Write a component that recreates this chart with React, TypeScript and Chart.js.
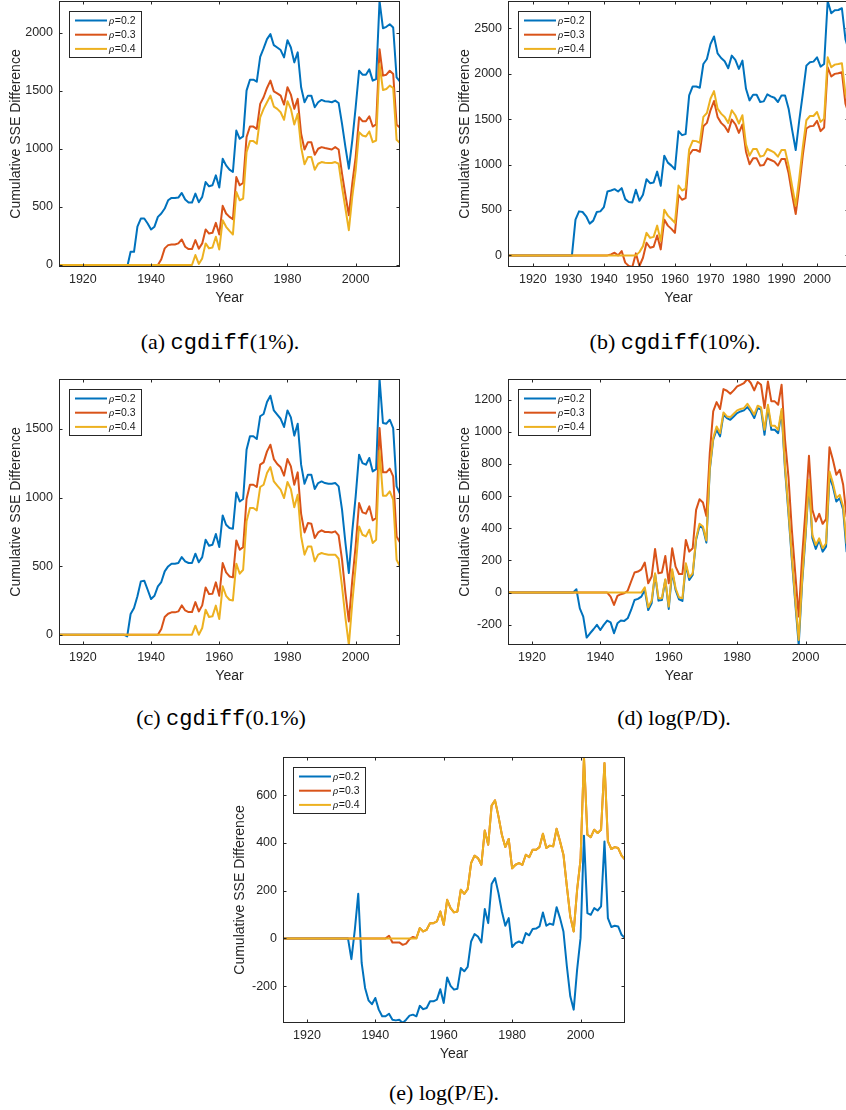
import React, { useEffect, useRef } from "react";
import { Chart, registerables } from "chart.js";

Chart.register(...registerables);

// ---------- categories ----------
const YEARS = [
  1913, 1914, 1915, 1916, 1917, 1918, 1919,
  1920, 1921, 1922, 1923, 1924, 1925, 1926, 1927, 1928, 1929,
  1930, 1931, 1932, 1933, 1934, 1935, 1936, 1937, 1938, 1939,
  1940, 1941, 1942, 1943, 1944, 1945, 1946, 1947, 1948, 1949,
  1950, 1951, 1952, 1953, 1954, 1955, 1956, 1957, 1958, 1959,
  1960, 1961, 1962, 1963, 1964, 1965, 1966, 1967, 1968, 1969,
  1970, 1971, 1972, 1973, 1974, 1975, 1976, 1977, 1978, 1979,
  1980, 1981, 1982, 1983, 1984, 1985, 1986, 1987, 1988, 1989,
  1990, 1991, 1992, 1993, 1994, 1995, 1996, 1997, 1998, 1999,
  2000, 2001, 2002, 2003, 2004, 2005, 2006, 2007, 2008, 2009,
  2010, 2011, 2012, 2013,
];
// panel (b) ends in 2009
const YEARS_B = [
  1913, 1914, 1915, 1916, 1917, 1918, 1919,
  1920, 1921, 1922, 1923, 1924, 1925, 1926, 1927, 1928, 1929,
  1930, 1931, 1932, 1933, 1934, 1935, 1936, 1937, 1938, 1939,
  1940, 1941, 1942, 1943, 1944, 1945, 1946, 1947, 1948, 1949,
  1950, 1951, 1952, 1953, 1954, 1955, 1956, 1957, 1958, 1959,
  1960, 1961, 1962, 1963, 1964, 1965, 1966, 1967, 1968, 1969,
  1970, 1971, 1972, 1973, 1974, 1975, 1976, 1977, 1978, 1979,
  1980, 1981, 1982, 1983, 1984, 1985, 1986, 1987, 1988, 1989,
  1990, 1991, 1992, 1993, 1994, 1995, 1996, 1997, 1998, 1999,
  2000, 2001, 2002, 2003, 2004, 2005, 2006, 2007, 2008, 2009,
];

const LABELS = ["\u03c1=0.2", "\u03c1=0.3", "\u03c1=0.4"];

// ---------- tick labels ----------
const X_TICKS_20 = [1920, 1940, 1960, 1980, 2000];
const X_TICKS_10 = [1920, 1930, 1940, 1950, 1960, 1970, 1980, 1990, 2000];
const Y_TICKS_A = [0, 500, 1000, 1500, 2000];
const Y_TICKS_B = [0, 500, 1000, 1500, 2000, 2500];
const Y_TICKS_C = [0, 500, 1000, 1500];
const Y_TICKS_D = [-200, 0, 200, 400, 600, 800, 1000, 1200];
const Y_TICKS_E = [-200, 0, 200, 400, 600];

// ---------- (a) cgdiff(1%) ----------
const A_RHO02 = [
  0, 0, 0, 0, 0, 0, 0, 0, 0, 0, 0, 0, 0, 0, 0, 0, 0, 0, 0, 0,
  -17, 114, 114, 330, 400, 400, 357, 306, 330, 414,
  443, 486, 557, 577, 577, 580, 620, 563, 537, 537,
  614, 540, 586, 714, 677, 686, 771, 666, 914, 857,
  820, 800, 1157, 1086, 1106, 1500, 1594, 1594, 1577, 1791,
  1863, 1943, 1986, 1891, 1871, 1849, 1786, 1934, 1871, 1743,
  1829, 1529, 1400, 1457, 1457, 1357, 1400, 1420, 1409, 1406,
  1400, 1414, 1394, 1214, 1014, 829, 1071, 1357, 1671, 1637,
  1637, 1683, 1586, 1600, 2271, 2037, 2049, 2071, 2043, 1614,
  1577,
];
const A_RHO03 = [
  0, 0, 0, 0, 0, 0, 0, 0, 0, 0, 0, 0, 0, 0, 0, 0, 0, 0, 0, 0,
  0, 0, 0, 0, 0, 0, 0, 0, 0, 0,
  49, 143, 171, 177, 177, 186, 220, 157, 137, 137,
  214, 140, 186, 306, 271, 277, 363, 263, 509, 443,
  414, 394, 757, 686, 706, 1100, 1191, 1191, 1171, 1386,
  1443, 1523, 1586, 1494, 1477, 1457, 1380, 1529, 1466, 1343,
  1429, 1129, 994, 1057, 1057, 949, 1000, 1014, 1006, 1000,
  994, 1014, 994, 786, 600, 429, 700, 929, 1271, 1237,
  1237, 1280, 1191, 1209, 1857, 1629, 1637, 1671, 1643, 1209,
  1180,
];
const A_RHO04 = [
  0, 0, 0, 0, 0, 0, 0, 0, 0, 0, 0, 0, 0, 0, 0, 0, 0, 0, 0, 0,
  0, 0, 0, 0, 0, 0, 0, 0, 0, 0, 0, 0, 0, 0, 0, 0, 0, 0, 0, 0,
  86, 9, 57, 186, 143, 151, 243, 134, 386, 329,
  294, 263, 629, 557, 571, 971, 1066, 1066, 1043, 1271,
  1343, 1400, 1457, 1363, 1343, 1314, 1249, 1409, 1343, 1209,
  1300, 1014, 866, 929, 929, 820, 871, 886, 880, 877,
  877, 886, 871, 671, 486, 300, 586, 814, 1143, 1114,
  1106, 1149, 1057, 1071, 1729, 1506, 1514, 1543, 1523, 1077,
  1049,
];

// ---------- (b) cgdiff(10%) ----------
const B_RHO02 = [
  0, 0, 0, 0, 0, 0, 0, 0, 0, 0, 0, 0, 0, 0, 0, 0, 0, 0, 0,
  394, 485, 478, 431, 350, 383, 478, 485, 533, 704,
  715, 730, 704, 741, 620, 588, 584, 723, 602, 668,
  839, 796, 803, 923, 766, 1099, 1022, 989, 949, 1369,
  1325, 1336, 1763, 1861, 1861, 1847, 2109, 2164, 2328, 2412,
  2226, 2175, 2139, 2062, 2201, 2153, 2055, 2146, 1836, 1708,
  1770, 1770, 1690, 1697, 1774, 1752, 1737, 1690, 1763, 1763,
  1617, 1380, 1161, 1489, 1781, 2091, 2128, 2135, 2182, 2080,
  2109, 2803, 2668, 2701, 2704, 2723, 2383, 2250,
];
const B_RHO03 = [
  0, 0, 0, 0, 0, 0, 0, 0, 0, 0, 0, 0, 0, 0, 0, 0, 0, 0, 0, 0,
  0, 0, 0, 0, 0, 0, 0, 0, 0,
  11, 29, 0, 47, -80, -117, -128, 22, -117, -26,
  139, 84, 95, 219, 66, 394, 328, 292, 248, 668,
  613, 631, 1106, 1161, 1161, 1142, 1423, 1460, 1599, 1701,
  1526, 1460, 1423, 1361, 1496, 1445, 1350, 1442, 1142, 1004,
  1069, 1069, 989, 996, 1069, 1051, 1033, 989, 1062, 1062,
  905, 668, 456, 759, 1106, 1398, 1423, 1427, 1482, 1369,
  1409, 2073, 1971, 2000, 2007, 2018, 1672, 1550,
];
const B_RHO04 = [
  0, 0, 0, 0, 0, 0, 0, 0, 0, 0, 0, 0, 0, 0, 0, 0, 0, 0, 0, 0,
  0, 0, 0, 0, 0, 0, 0, 0, 0, 0, 0, 0, 0, 0, 0, 0, 0,
  36, 102, 248, 193, 204, 328, 157, 504, 438, 401,
  358, 770, 715, 734, 1168, 1263, 1259, 1241, 1526, 1569,
  1726, 1810, 1617, 1562, 1526, 1460, 1599, 1544, 1453, 1544,
  1223, 1099, 1172, 1172, 1088, 1099, 1172, 1153, 1131, 1088,
  1161, 1161, 989, 759, 547, 850, 1197, 1489, 1536, 1536,
  1580, 1471, 1507, 2182, 2073, 2102, 2109, 2117, 1781, 1650,
];

// ---------- (c) cgdiff(0.1%) ----------
const C_RHO02 = [
  0, 0, 0, 0, 0, 0, 0, 0, 0, 0, 0, 0, 0, 0, 0, 0, 0, 0, 0, 0,
  -12, 151, 195, 280, 389, 394, 328, 260, 284, 353,
  384, 462, 498, 518, 518, 523, 566, 535, 523, 523,
  591, 528, 566, 693, 649, 656, 734, 639, 870, 802,
  778, 773, 1038, 972, 990, 1349, 1447, 1447, 1427, 1593,
  1610, 1697, 1743, 1636, 1605, 1575, 1515, 1636, 1585, 1452,
  1539, 1240, 1101, 1167, 1167, 1062, 1106, 1118, 1106, 1101,
  1101, 1106, 1082, 912, 669, 450, 754, 1009, 1313, 1252,
  1240, 1289, 1191, 1208, 1865, 1544, 1539, 1568, 1507, 1082,
  1028,
];
const C_RHO03 = [
  0, 0, 0, 0, 0, 0, 0, 0, 0, 0, 0, 0, 0, 0, 0, 0, 0, 0, 0, 0,
  0, 0, 0, 0, 0, 0, 0, 0, 0, 0,
  41, 129, 153, 163, 163, 170, 214, 177, 165, 165,
  238, 170, 214, 345, 297, 299, 382, 284, 523, 455,
  425, 418, 688, 620, 639, 990, 1094, 1094, 1077, 1240,
  1257, 1337, 1386, 1281, 1245, 1221, 1160, 1281, 1228, 1094,
  1184, 880, 746, 814, 810, 705, 746, 761, 749, 749,
  746, 754, 724, 547, 304, 97, 396, 649, 960, 892,
  883, 936, 834, 851, 1507, 1184, 1184, 1211, 1155, 717,
  673,
];
const C_RHO04 = [
  0, 0, 0, 0, 0, 0, 0, 0, 0, 0, 0, 0, 0, 0, 0, 0, 0, 0, 0, 0,
  0, 0, 0, 0, 0, 0, 0, 0, 0, 0, 0, 0, 0, 0, 0, 0, 0, 0, 0, 0,
  66, 0, 49, 182, 129, 134, 212, 114, 353, 284,
  255, 250, 518, 445, 474, 827, 924, 924, 907, 1077,
  1094, 1179, 1223, 1118, 1087, 1058, 997, 1114, 1062, 929,
  1021, 717, 584, 644, 644, 535, 584, 596, 588, 584,
  584, 584, 554, 353, 122, -75, 231, 498, 790, 729,
  717, 766, 669, 693, 1342, 1014, 1014, 1045, 985, 547,
  498,
];

// ---------- (d) log(P/D) ----------
const D_RHO02 = [
  0, 0, 0, 0, 0, 0, 0, 0, 0, 0, 0, 0, 0, 0, 0, 0, 0, 0, 0, 0,
  21, -98, -149, -280, -253, -228, -201, -233, -201, -174,
  -185, -253, -191, -174, -176, -160, -108, -46, -39, -25,
  17, -108, -66, 116, -50, -46, 79, -102, 131, 17,
  -42, -52, 172, 79, 110, 328, 415, 401, 311, 764,
  951, 1013, 972, 1107, 1086, 1075, 1096, 1117, 1127, 1134,
  1154, 1127, 1086, 1148, 1138, 982, 1154, 1013, 1013, 992,
  1127, 764, 494, 203, -66, -326, 58, 349, 691, 338,
  272, 328, 255, 286, 722, 660, 567, 588, 515, 255,
  230,
];
const D_RHO03 = [
  0, 0, 0, 0, 0, 0, 0, 0, 0, 0, 0, 0, 0, 0, 0, 0, 0, 0, 0, 0,
  0, 0, 0, 0, 0, 0, 0, 0, 0, 0,
  -25, -77, -21, -10, -4, 12, 69, 125, 131, 145,
  187, 58, 100, 272, 120, 125, 228, 58, 276, 162,
  116, 116, 328, 255, 276, 515, 581, 561, 477, 868,
  1127, 1185, 1142, 1266, 1256, 1237, 1258, 1283, 1293, 1304,
  1329, 1304, 1258, 1310, 1293, 1148, 1314, 1190, 1190, 1169,
  1293, 951, 722, 390, 120, -149, 224, 515, 851, 515,
  442, 490, 428, 457, 905, 826, 733, 764, 671, 473,
  430,
];
const D_RHO04 = [
  0, 0, 0, 0, 0, 0, 0, 0, 0, 0, 0, 0, 0, 0, 0, 0, 0, 0, 0, 0,
  0, 0, 0, 0, 0, 0, 0, 0, 0, 0, 0, 0, 0, 0, 0, 0, 0, 0, 0, 0,
  33, -91, -50, 120, -35, -35, 83, -87, 145, 27,
  -29, -35, 183, 95, 120, 338, 428, 411, 324, 774,
  961, 1034, 992, 1121, 1096, 1092, 1113, 1134, 1142, 1148,
  1175, 1142, 1107, 1163, 1152, 1013, 1169, 1038, 1038, 1013,
  1142, 785, 515, 224, -46, -295, 79, 370, 702, 359,
  297, 338, 276, 307, 754, 681, 588, 608, 536, 307,
  290,
];

// ---------- (e) log(P/E) ----------
const E_RHO02 = [
  0, 0, 0, 0, 0, 0, 0, 0, 0, 0, 0, 0, 0, 0, 0, 0, 0, 0, 0, 0,
  -87, 36, 187, -103, -208, -260, -276, -250, -299, -327,
  -327, -316, -341, -344, -341, -355, -341, -324, -320, -327,
  -283, -297, -292, -264, -264, -257, -213, -271, -164, -199,
  -215, -211, -124, -138, -120, -13, 18, 8, -17, 123,
  64, 228, 253, 190, 113, 53, 85, -36, -20, -13,
  -20, 22, 13, 39, 41, 50, 109, 53, 62, 57,
  131, 85, 29, -117, -243, -299, -131, 1, 431, 106,
  99, 127, 117, 134, 407, 85, 48, 53, 50, 15,
  1,
];
const E_RHO04 = [
  0, 0, 0, 0, 0, 0, 0, 0, 0, 0, 0, 0, 0, 0, 0, 0, 0, 0, 0, 0,
  0, 0, 0, 0, 0, 0, 0, 0, 0, 0, 0, 0, 0, 0, 0, 0, 0, 0, 0, 0,
  43, 29, 36, 64, 64, 71, 113, 57, 162, 127,
  109, 113, 204, 187, 207, 316, 347, 337, 309, 453,
  393, 557, 579, 512, 435, 383, 417, 294, 309, 316,
  309, 351, 341, 372, 372, 383, 439, 379, 389, 386,
  460, 407, 351, 218, 92, 29, 204, 330, 761, 435,
  425, 456, 442, 456, 736, 407, 375, 383, 379, 347,
  330,
];
// rho=0.3 differs from rho=0.4 only up to 1952
const E_RHO03_TO_1952 = [
  0, 0, 0, 0, 0, 0, 0, 0, 0, 0, 0, 0, 0, 0, 0, 0, 0, 0, 0, 0,
  0, 0, 0, 0, 0, 0, 0, 0, 0, 0, 0,
  11, -17, -17, -17, -27, -22, -3, 6, 1,
];
const E_RHO03 = [...E_RHO03_TO_1952, ...E_RHO04.slice(E_RHO03_TO_1952.length)];

// ---------- styling ----------
const COLORS = ["rgb(0,114,189)", "rgb(217,83,25)", "rgb(237,177,32)"];
const AXIS_COLOR = "#262626";
const SANS = '"Liberation Sans", Arial, Helvetica, sans-serif';
const Y_AXIS_W = 59;
const PAD_TOP = 10;
const PAD_RIGHT = 20;
const X_AXIS_H = 45;

type PanelCfg = {
  left: number;
  top: number;
  w: number;
  h: number;
  years: number[];
  series: number[][];
  xTicks: number[];
  yTicks: number[];
};

const PANELS: PanelCfg[] = [
  { left: 59, top: 1, w: 341, h: 266, years: YEARS, series: [A_RHO02, A_RHO03, A_RHO04], xTicks: X_TICKS_20, yTicks: Y_TICKS_A },
  { left: 508, top: 1, w: 341, h: 266, years: YEARS_B, series: [B_RHO02, B_RHO03, B_RHO04], xTicks: X_TICKS_10, yTicks: Y_TICKS_B },
  { left: 59, top: 379, w: 341, h: 266, years: YEARS, series: [C_RHO02, C_RHO03, C_RHO04], xTicks: X_TICKS_20, yTicks: Y_TICKS_C },
  { left: 508, top: 379, w: 342, h: 266, years: YEARS, series: [D_RHO02, D_RHO03, D_RHO04], xTicks: X_TICKS_20, yTicks: Y_TICKS_D },
  { left: 283, top: 757, w: 342, h: 266, years: YEARS, series: [E_RHO02, E_RHO03, E_RHO04], xTicks: X_TICKS_20, yTicks: Y_TICKS_E },
];

const matlabAxes = {
  id: "matlabAxes",
  afterDraw(chart: any) {
    const { ctx, chartArea: a } = chart;
    const xs = chart.scales.x;
    const ys = chart.scales.y;
    const L = 3.5;
    ctx.save();
    ctx.strokeStyle = AXIS_COLOR;
    ctx.lineWidth = 1;
    ctx.beginPath();
    for (const t of xs.ticks) {
      const p = Math.round(xs.getPixelForValue(t.value)) + 0.5;
      ctx.moveTo(p, a.bottom);
      ctx.lineTo(p, a.bottom - L);
      ctx.moveTo(p, a.top);
      ctx.lineTo(p, a.top + L);
    }
    for (const t of ys.ticks) {
      const p = Math.round(ys.getPixelForValue(t.value)) + 0.5;
      ctx.moveTo(a.left, p);
      ctx.lineTo(a.left + L, p);
      ctx.moveTo(a.right, p);
      ctx.lineTo(a.right - L, p);
    }
    ctx.stroke();
    ctx.strokeRect(a.left + 0.5, a.top + 0.5, a.right - a.left - 1, a.bottom - a.top - 1);

    // legend box (inside, top-left)
    const bx = Math.round(a.left) + 10;
    const by = Math.round(a.top) + 10;
    const bw = 72;
    const bh = 46;
    ctx.fillStyle = "#fff";
    ctx.fillRect(bx, by, bw, bh);
    ctx.strokeStyle = AXIS_COLOR;
    ctx.lineWidth = 1;
    ctx.strokeRect(bx + 0.5, by + 0.5, bw, bh);
    chart.data.datasets.forEach((ds: any, i: number) => {
      const y = by + 9.5 + i * 14.2;
      ctx.strokeStyle = ds.borderColor;
      ctx.lineWidth = 2;
      ctx.beginPath();
      ctx.moveTo(bx + 6, y);
      ctx.lineTo(bx + 38, y);
      ctx.stroke();
      ctx.fillStyle = "#1a1a1a";
      ctx.textBaseline = "middle";
      ctx.textAlign = "left";
      const lbl: string = ds.label;
      ctx.font = 'italic 11px "Liberation Serif", serif';
      ctx.fillText(lbl.charAt(0), bx + 40, y + 0.5);
      const w = ctx.measureText(lbl.charAt(0)).width;
      ctx.font = '10.5px ' + SANS;
      ctx.fillText(lbl.slice(1), bx + 40 + w + 0.5, y + 0.5);
    });
    ctx.restore();
  },
};

function Panel({ cfg }: { cfg: PanelCfg }) {
  const ref = useRef<HTMLCanvasElement>(null);
  const cw = Y_AXIS_W + cfg.w + PAD_RIGHT;
  const ch = PAD_TOP + cfg.h + X_AXIS_H;

  useEffect(() => {
    const all = cfg.series.flat();
    const chart = new Chart(ref.current as HTMLCanvasElement, {
      type: "line",
      data: {
        datasets: cfg.series.map((vals, i) => ({
          label: LABELS[i],
          data: vals.map((v, j) => ({ x: cfg.years[j], y: v })),
          borderColor: COLORS[i],
          backgroundColor: COLORS[i],
          borderWidth: 2,
          pointRadius: 0,
          tension: 0,
          fill: false,
          order: 2 - i,
          borderJoinStyle: "round",
          borderCapStyle: "round",
        })),
      },
      options: {
        responsive: false,
        animation: false,
        devicePixelRatio: 1,
        events: [],
        layout: { padding: { top: PAD_TOP, right: PAD_RIGHT, bottom: 0, left: 0 } },
        plugins: { legend: { display: false }, tooltip: { enabled: false } },
        scales: {
          x: {
            type: "linear",
            min: cfg.years[0],
            max: cfg.years[cfg.years.length - 1],
            grid: { display: false, drawTicks: false, tickLength: 0 },
            border: { display: false },
            ticks: {
              autoSkip: false,
              maxRotation: 0,
              minRotation: 0,
              padding: 5,
              color: AXIS_COLOR,
              font: { family: SANS, size: 12.5 },
              callback: (v: any) => String(v),
            },
            title: {
              display: true,
              text: "Year",
              color: AXIS_COLOR,
              font: { family: SANS, size: 14 },
              padding: { top: 0, bottom: 5 },
            },
            afterBuildTicks: (s: any) => {
              s.ticks = cfg.xTicks.map((v) => ({ value: v }));
            },
            afterFit: (s: any) => {
              s.height = X_AXIS_H;
              s.paddingLeft = 0;
              s.paddingRight = 0;
            },
          },
          y: {
            type: "linear",
            min: Math.min(...all),
            max: Math.max(...all),
            grid: { display: false, drawTicks: false, tickLength: 0 },
            border: { display: false },
            ticks: {
              autoSkip: false,
              padding: 6,
              color: AXIS_COLOR,
              font: { family: SANS, size: 12.5 },
              callback: (v: any) => String(v),
            },
            title: {
              display: true,
              text: "Cumulative SSE Difference",
              color: AXIS_COLOR,
              font: { family: SANS, size: 14 },
              padding: { top: 7.6, bottom: 0 },
            },
            afterBuildTicks: (s: any) => {
              s.ticks = cfg.yTicks.map((v) => ({ value: v }));
            },
            afterFit: (s: any) => {
              s.width = Y_AXIS_W;
              s.paddingTop = 0;
              s.paddingBottom = 0;
            },
          },
        },
      } as any,
      plugins: [matlabAxes],
    });
    return () => chart.destroy();
  }, []);

  return (
    <canvas
      ref={ref}
      width={cw}
      height={ch}
      style={{
        position: "absolute",
        left: cfg.left - Y_AXIS_W,
        top: cfg.top - PAD_TOP,
        width: cw,
        height: ch,
        display: "block",
      }}
    />
  );
}

const SERIF = '"Liberation Serif", "Times New Roman", serif';
const MONO = '"Liberation Mono", "DejaVu Sans Mono", monospace';

function Caption({ cx, cy, children }: { cx: number; cy: number; children: React.ReactNode }) {
  return (
    <div
      style={{
        position: "absolute",
        left: cx - 160,
        width: 320,
        top: cy - 15,
        height: 30,
        lineHeight: "30px",
        textAlign: "center",
        fontFamily: SERIF,
        fontSize: 22,
        color: "#000",
        whiteSpace: "nowrap",
      }}
    >
      {children}
    </div>
  );
}

export default function App() {
  return (
    <div
      style={{
        position: "absolute",
        left: 0,
        top: 0,
        width: 846,
        height: 1110,
        overflow: "hidden",
        background: "#fff",
      }}
    >
      {PANELS.map((p, i) => (
        <Panel key={i} cfg={p} />
      ))}
      <Caption cx={220} cy={342}>
        {"(a) "}
        <span style={{ fontFamily: MONO }}>cgdiff</span>
        {"(1%)."}
      </Caption>
      <Caption cx={675} cy={342}>
        {"(b) "}
        <span style={{ fontFamily: MONO }}>cgdiff</span>
        {"(10%)."}
      </Caption>
      <Caption cx={221} cy={718}>
        {"(c) "}
        <span style={{ fontFamily: MONO }}>cgdiff</span>
        {"(0.1%)"}
      </Caption>
      <Caption cx={674} cy={718}>
        {"(d) log(P/D)."}
      </Caption>
      <Caption cx={444} cy={1093}>
        {"(e) log(P/E)."}
      </Caption>
    </div>
  );
}
